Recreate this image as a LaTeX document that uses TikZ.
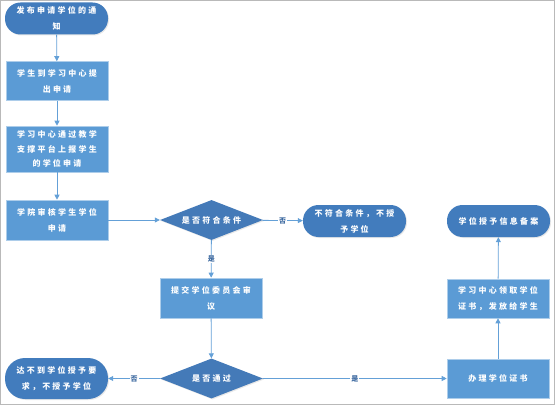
\documentclass[tikz,border=0pt]{standalone}
\usepackage{fontspec}
\newfontfamily\cjk[LetterSpace=28]{Noto Sans CJK SC}
\newfontfamily\cjklab{Noto Sans CJK SC}
\usetikzlibrary{shapes.geometric,arrows.meta,shadows}
\definecolor{termblue}{RGB}{66,124,189}
\definecolor{boxblue}{RGB}{91,155,213}
\definecolor{diablue}{RGB}{68,122,184}
\definecolor{linkblue}{RGB}{100,160,215}
\definecolor{labblue}{RGB}{60,105,160}
\definecolor{framegray}{RGB}{185,185,185}
\tikzset{
  base/.style={text=white, font=\cjk\fontsize{8}{16}\selectfont\bfseries, align=center, inner sep=0pt,
    drop shadow={opacity=0.18, shadow xshift=1pt, shadow yshift=-1pt}},
  term/.style={base, fill=termblue, rounded corners=15.5pt, minimum width=103pt, minimum height=32pt},
  procbox/.style={base, fill=boxblue, draw=boxblue!50!white, line width=0.6pt, minimum width=102pt, minimum height=39pt},
  decide/.style={base, diamond, shape aspect=2.575, fill=diablue, minimum width=103pt, minimum height=40pt},
  link/.style={draw=linkblue, line width=0.8pt, -{Triangle[length=5pt,width=5pt]}},
  lab/.style={fill=white, text=labblue, font=\cjklab\fontsize{7}{8}\selectfont\bfseries, inner sep=1pt}
}
\begin{document}
\begin{tikzpicture}[x=1pt,y=-1pt]
\useasboundingbox (0,0) rectangle (556,406);
\draw[framegray, line width=1.2pt] (0.6,0.6) rectangle (554.4,404.4);

\node[term] (n1) at (56.5,18.5) {发布申请学位的通\\知};
\node[procbox] (n2) at (57,81) {学生到学习中心提\\出申请};
\node[procbox, minimum height=46pt, font=\cjk\fontsize{8}{14.5}\selectfont\bfseries] (n3) at (57,149) {学习中心通过教学\\支撑平台上报学生\\的学位申请};
\node[procbox, minimum height=40pt] (n4) at (57,220) {学院审核学生学位\\申请};
\node[decide] (d1) at (211.5,220) {是否符合条件};
\node[term] (tnf) at (354.5,221) {不符合条件，不授\\予学位};
\node[term] (tbk) at (498.5,221) {学位授予信息备案};
\node[procbox, minimum height=40pt] (bsub) at (211,298) {提交学位委员会审\\议};
\node[decide] (d2) at (211.5,378.5) {是否通过};
\node[term, minimum height=41pt, rounded corners=20pt] (tfail) at (56.5,378.5) {达不到学位授予要\\求，不授予学位};
\node[procbox] (bcert) at (498,378.5) {办理学位证书};
\node[procbox] (brecv) at (498,298.5) {学习中心领取学位\\证书，发放给学生};

\draw[link] (n1) -- (n2);
\draw[link] (n2) -- (n3);
\draw[link] (n3) -- (n4);
\draw[link] (n4) -- (d1);
\draw[link] (d1) -- node[lab] {否} (tnf);
\draw[link] (d1) -- node[lab] {是} (bsub);
\draw[link] (bsub) -- (d2);
\draw[link] (d2) -- node[lab] {否} (tfail);
\draw[link] (d2) -- node[lab] {是} (bcert);
\draw[link] (bcert) -- (brecv);
\draw[link] (brecv) -- (tbk);
\end{tikzpicture}
\end{document}
